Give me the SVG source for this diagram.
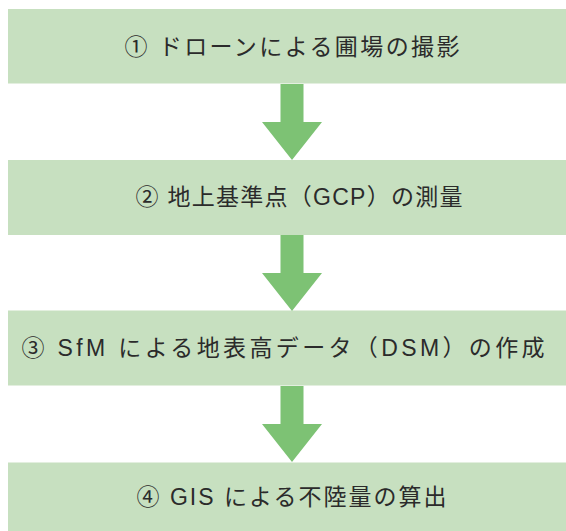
<svg xmlns="http://www.w3.org/2000/svg" width="566" height="531" viewBox="0 0 566 531">
<style>
.box{fill:#c7e0c0}
.arrow{fill:#7dc274}
.t{font-family:"Liberation Sans","Noto Sans CJK JP",sans-serif;font-size:23px;fill:#2b2b2b;text-anchor:middle}
</style>
<defs>
<path id="arr" d="M-11.5,0 H11.5 V38 H30 L0,76 L-30,38 H-11.5 Z"/>
</defs>
<rect width="566" height="531" fill="#fff"/>
<g id="node1"><rect class="box" x="8" y="9" width="558" height="74.5"/><text class="t" x="292" y="55" textLength="335" lengthAdjust="spacing">① ドローンによる圃場の撮影</text></g>
<g id="node2"><rect class="box" x="8" y="160" width="558" height="75"/><text class="t" x="299" y="205" textLength="327" lengthAdjust="spacing">② 地上基準点（GCP）の測量</text></g>
<g id="node3"><rect class="box" x="8" y="310.5" width="558" height="75"/><text class="t" x="283" y="356" textLength="523" lengthAdjust="spacing">③ SfM による地表高データ（DSM）の作成</text></g>
<g id="node4"><rect class="box" x="8" y="462.5" width="558" height="68.5"/><text class="t" x="291.5" y="505" textLength="310" lengthAdjust="spacing">④ GIS による不陸量の算出</text></g>
<g id="connectors">
<use href="#arr" class="arrow" x="292" y="84"/>
<use href="#arr" class="arrow" x="292" y="235"/>
<use href="#arr" class="arrow" x="292" y="386"/>
</g>
</svg>
